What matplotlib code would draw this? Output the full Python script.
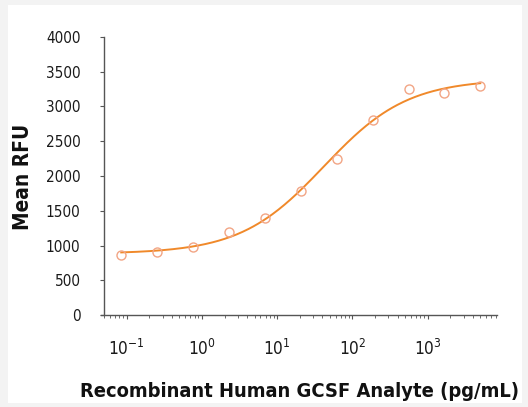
import numpy as np
import matplotlib
matplotlib.use("Agg")
import matplotlib.pyplot as plt
from matplotlib import font_manager as fm
from matplotlib.patches import Rectangle
from matplotlib.ticker import LogLocator, FixedLocator

# 选一个窄体字体
fonts = [(f.name, f.stretch) for f in fm.fontManager.ttflist]
font_name, font_stretch = 'DejaVu Sans', 'normal'
if any(n == 'Liberation Sans Narrow' for n, _ in fonts):
    font_name = 'Liberation Sans Narrow'
elif ('DejaVu Sans', 'condensed') in fonts:
    font_stretch = 'condensed'

plt.rcParams['font.family'] = [font_name, 'DejaVu Sans']
plt.rcParams['font.stretch'] = font_stretch
plt.rcParams['mathtext.fontset'] = 'custom'
plt.rcParams['mathtext.rm'] = font_name

# 数据 (3倍稀释)
conc = [0.0847, 0.254, 0.762, 2.29, 6.86, 20.6, 61.7, 185, 556, 1667, 5000]
rfu = [863, 902, 983, 1199, 1400, 1784, 2245, 2806, 3252, 3189, 3300]
y_ticks = [0, 500, 1000, 1500, 2000, 2500, 3000, 3500, 4000]
x_label = 'Recombinant Human GCSF Analyte (pg/mL)'
y_label = 'Mean RFU'

line_color = '#f0892a'
marker_color = '#f2a585'


def fit_4pl(x, y):
    # 四参数逻辑拟合: 网格搜索 ec50 和 hill, 线性求解 bottom/top
    x = np.asarray(x, float)
    y = np.asarray(y, float)
    best = None
    for lec in np.linspace(0, 3, 301):
        for h in np.linspace(0.3, 2.0, 171):
            f = 1.0 / (1.0 + (10 ** lec / x) ** h)
            A = np.column_stack([1 - f, f])
            coef, *_ = np.linalg.lstsq(A, y, rcond=None)
            err = np.sum((A @ coef - y) ** 2)
            if best is None or err < best[0]:
                best = (err, coef[0], coef[1], 10 ** lec, h)
    return best[1:]


bottom, top, ec50, hill = fit_4pl(conc, rfu)
xs = np.logspace(np.log10(conc[0]), np.log10(conc[-1]), 300)
ys = bottom + (top - bottom) / (1 + (ec50 / xs) ** hill)

fig = plt.figure(figsize=(5.28, 4.07), dpi=100)
fig.patch.set_facecolor('#f3f3f3')
fig.patches.append(Rectangle((8 / 528, 4 / 407), 514 / 528, 398 / 407,
                             transform=fig.transFigure, facecolor='white',
                             edgecolor='none', zorder=-5))

ax = fig.add_axes([101 / 528, 92 / 407, 396 / 528, 278 / 407])
ax.set_zorder(2)
ax.set_facecolor('none')

ax.plot(xs, ys, color=line_color, lw=1.4, zorder=3)
ax.plot(conc, rfu, 'o', mfc='none', mec=marker_color, ms=6.5, mew=1.0, zorder=4)

ax.set_xscale('log')
ax.set_xlim(10 ** -1.341, 10 ** 3.921)
ax.set_ylim(0, 4000)
ax.yaxis.set_major_locator(FixedLocator(y_ticks))
ax.xaxis.set_major_locator(LogLocator(base=10, numticks=10))
ax.xaxis.set_minor_locator(LogLocator(base=10, subs=np.arange(2, 10), numticks=10))

for s in ['top', 'right']:
    ax.spines[s].set_visible(False)
ax.spines['left'].set_position(('axes', 0.008))
for s in ['left', 'bottom']:
    ax.spines[s].set_color('#555555')
    ax.spines[s].set_linewidth(1.0)

ax.tick_params(axis='both', which='major', length=3, width=0.8, color='#555555',
               labelsize=13, labelcolor='#1a1a1a')
ax.tick_params(axis='y', pad=14)
ax.tick_params(axis='x', pad=14)
ax.tick_params(axis='x', which='minor', length=2.5, width=0.6, color='#555555')

ax.set_ylabel(y_label, fontsize=19, fontweight='bold', color='#111111',
              ha='center', va='center')
ax.set_xlabel(x_label, fontsize=19, fontweight='bold', color='#111111',
              ha='center', va='baseline')
ax.xaxis.set_label_coords(300 / 528, 10 / 407, transform=fig.transFigure)
ax.yaxis.set_label_coords(23 / 528, 230 / 407, transform=fig.transFigure)

# 按参考图的文字宽度调整字号
fig.canvas.draw()
r = fig.canvas.get_renderer()
xl = ax.xaxis.label
xl.set_fontsize(19 * 440 / xl.get_window_extent(r).width)
yl = ax.yaxis.label
yl.set_fontsize(19 * 106 / yl.get_window_extent(r).height)
t4000 = [t for t in ax.get_yticklabels() if t.get_text() == '4000'][0]
tick_size = 13 * 35 / t4000.get_window_extent(r).width
ax.tick_params(axis='y', which='major', labelsize=tick_size)
ax.tick_params(axis='x', which='major', labelsize=tick_size * 1.12)

fig.savefig('out.png', dpi=100)
